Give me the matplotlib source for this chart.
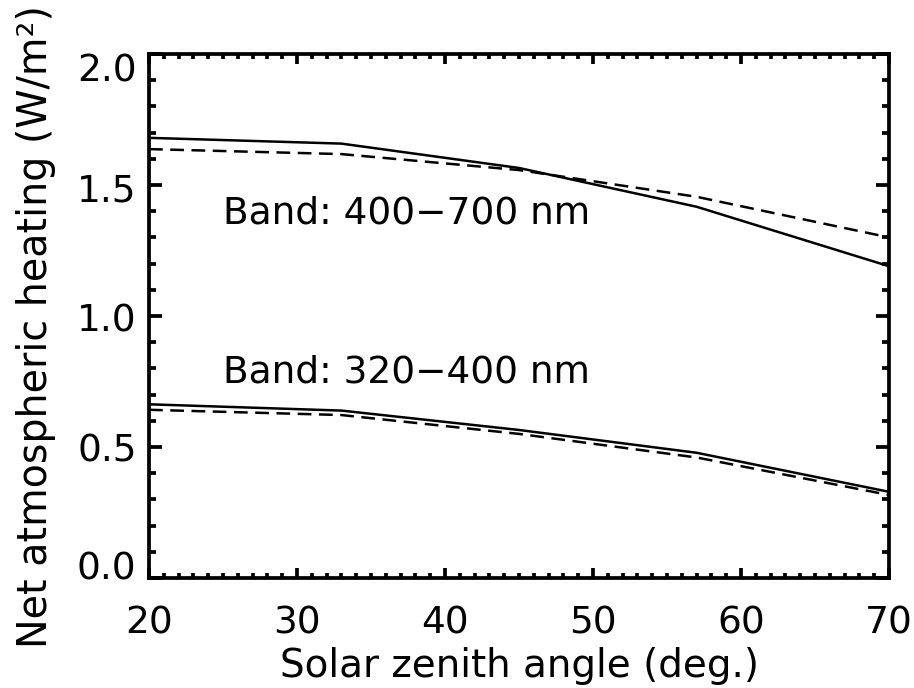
import matplotlib
matplotlib.use("Agg")
import matplotlib.pyplot as plt
import matplotlib.transforms as mtransforms
from matplotlib.ticker import MultipleLocator, FormatStrFormatter

angles = [20, 33, 45, 57, 70]
vis_solid = [1.68, 1.658, 1.565, 1.417, 1.19]
vis_dashed = [1.637, 1.618, 1.557, 1.455, 1.30]
uv_solid = [0.663, 0.639, 0.565, 0.478, 0.329]
uv_dashed = [0.642, 0.622, 0.55, 0.46, 0.317]
band_labels = ["Band: 400\u2212700 nm", "Band: 320\u2212400 nm"]
band_label_pos = [(25, 1.393), (25, 0.786)]

plt.rcParams['font.family'] = ['DejaVu Sans']
fig = plt.figure(figsize=(9.14, 6.88), dpi=100)
ax = fig.add_axes([149/914, 110/688, 740/914, 524/688])

lw = 1.8
ax.plot(angles, vis_solid, color='black', lw=lw)
ax.plot(angles, vis_dashed, color='black', lw=lw, dashes=(5.5, 3))
ax.plot(angles, uv_solid, color='black', lw=lw)
ax.plot(angles, uv_dashed, color='black', lw=lw, dashes=(5.5, 3))

fs = 27
for lab, (x, y) in zip(band_labels, band_label_pos):
    ax.text(x, y, lab, fontsize=fs, va='center', ha='left')

ax.set_xlim(20, 70)
ax.set_ylim(0, 2.0)
ax.xaxis.set_major_locator(MultipleLocator(10))
ax.xaxis.set_minor_locator(MultipleLocator(1))
ax.yaxis.set_major_locator(MultipleLocator(0.5))
ax.yaxis.set_minor_locator(MultipleLocator(0.1))
ax.yaxis.set_major_formatter(FormatStrFormatter('%.1f'))

for s in ax.spines.values():
    s.set_linewidth(2.7)

ax.tick_params(which='both', direction='in', top=True, right=True, width=2.7)
ax.tick_params(axis='x', which='major', length=7, labelsize=fs, pad=20)
ax.tick_params(axis='x', which='minor', length=3.5)
ax.tick_params(axis='y', which='major', length=9.5, labelsize=fs, pad=9)
ax.tick_params(axis='y', which='minor', length=5)

ax.set_xlabel("Solar zenith angle (deg.)", fontsize=28, labelpad=4)
ax.set_ylabel("Net atmospheric heating (W/m\u00b2)", fontsize=28.5)
ax.yaxis.set_label_coords(-0.126, 0.479)

# end labels sit inside the axis range, as in the reference
label_shift_px = {0.0: -12.5, 0.5: 0.5, 1.0: 1.0, 1.5: 2.5, 2.0: 13.5}
fig.canvas.draw()
for tick in ax.yaxis.get_major_ticks():
    v = round(tick.get_loc(), 1)
    dy_px = label_shift_px.get(v, 0.0)
    off = mtransforms.ScaledTranslation(0, -dy_px / 100.0, fig.dpi_scale_trans)
    tick.label1.set_transform(tick.label1.get_transform() + off)

fig.savefig("out.png", dpi=100)
